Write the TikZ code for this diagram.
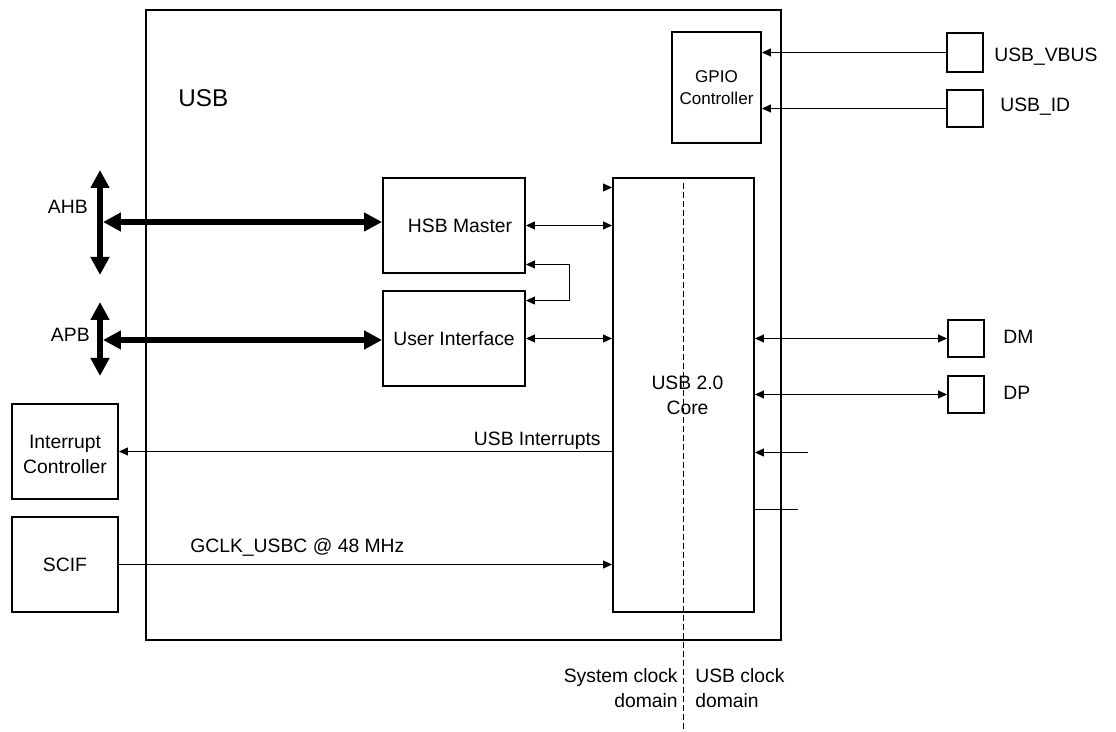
\documentclass[tikz,border=0pt]{standalone}
\usepackage{fontspec}
\setmainfont{Liberation Sans}
\usetikzlibrary{arrows.meta, calc, fit}

\begin{document}
\begin{tikzpicture}[x=0.02cm, y=-0.02cm, >={Triangle[length=0.18cm, width=0.16cm]},
                every node/.style={font=\fontsize{11}{14.2}\selectfont},
                box/.style={draw, line width=1.1pt, inner sep=0pt},
                tag/.style={inner sep=0pt, align=center},
                link/.style={line width=0.6pt},
                bus/.style={line width=3.3pt, {Triangle[length=0.36cm, width=0.36cm]}-{Triangle[length=0.36cm, width=0.36cm]}}]
                \useasboundingbox (0,0) rectangle (1116,732);
                
                % USB module outline
                \node[box, fit={(146,10) (781,640)}] (usb) {};
                \node[tag, anchor=west, font=\fontsize{13.8}{16}\selectfont] (usbname) at (178,98) {USB};
                
                % Inner blocks
                \node[box, fit={(672,32) (761,143)}] (gpio) {};
                \node[box, fit={(383,178) (525,273)}] (hsb) {};
                \node[box, fit={(383,291) (525,386)}] (ui) {};
                \node[box, fit={(613,178) (754,612)}] (core) {};
                \node[tag, font=\fontsize{9.7}{12.5}\selectfont] (gpiotext) at (gpio) {GPIO\\Controller};
                \node[tag] (hsbtext) at ($(hsb)+(6,0)$) {HSB Master};
                \node[tag] (uitext) at (ui) {User Interface};
                \node[tag] (coretext) at ($(core)+(4,0)$) {USB 2.0\\Core};
                
                % Outside blocks
                \node[box, fit={(12,404) (118,499)}] (intc) {};
                \node[box, fit={(12,517) (118,612)}] (scif) {};
                \node[tag] (intctext) at ($(intc)+(0,3)$) {Interrupt\\Controller};
                \node[tag] (sciftext) at (scif) {SCIF};
                
                % Pads and their names
                \node[box, fit={(947,33) (983,72)}] (vbus) {};
                \node[box, fit={(947,90) (983,127)}] (id) {};
                \node[box, fit={(948,320) (984,357)}] (dm) {};
                \node[box, fit={(948,376) (984,413)}] (dp) {};
                \node[tag, anchor=base west] (vbusname) at (994,62) {USB\_VBUS};
                \node[tag, anchor=base west] (idname) at (1000,112) {USB\_ID};
                \node[tag, anchor=base west] (dmname) at (1003,344) {DM};
                \node[tag, anchor=base west] (dpname) at (1003,400) {DP};
                
                % Pads to GPIO controller
                \draw[link, ->] (vbus) -- (gpio.east |- vbus);
                \draw[link, ->] (id) -- (gpio.east |- id);
                
                % Bus interfaces
                \coordinate (ahbtop) at (100,170);
                \coordinate (ahbbot) at (100,275);
                \coordinate (ahbin) at (103,222);
                \coordinate (apbtop) at (100,302);
                \coordinate (apbbot) at (100,376);
                \coordinate (apbin) at (103,340);
                \draw[bus] (ahbtop) -- (ahbbot);
                \draw[bus] (ahbin) -- (hsb.west |- ahbin);
                \draw[bus] (apbtop) -- (apbbot);
                \draw[bus] (apbin) -- (ui.west |- apbin);
                \node[tag, anchor=east] (ahbname) at (88,207) {AHB};
                \node[tag, anchor=east] (apbname) at (90,335) {APB};
                
                % Links to the core
                \draw[link, <->] (hsb) -- (core.west |- hsb);
                \draw[link, <->] (ui) -- (core.west |- ui);
                \draw[link, <->] ($(hsb.south east)+(0,-9.5)$) -- ++(44,0) |- ($(ui.north east)+(0,10.5)$);
                \draw[link, ->] ($(core.north west)+(-9,10.5)$) -- ($(core.north west)+(0,10.5)$);
                \draw[link, <->] (core.east |- dm) -- (dm);
                \draw[link, <->] (core.east |- dp) -- (dp);
                
                % Loose lines on the right
                \coordinate (rin) at (808,452.5);
                \coordinate (rout) at (798,509.5);
                \draw[link, ->] (rin) -- (core.east |- rin);
                \draw[link] (core.east |- rout) -- (rout);
                
                % Interrupts and clock
                \draw[link, ->] (core.west |- intc) -- (intc);
                \node[tag, anchor=base east] (irqname) at (601,446) {USB Interrupts};
                \draw[link, ->] (scif) -- (core.west |- scif);
                \node[tag, anchor=base west] (clkname) at (190,553) {GCLK\_USBC @ 48 MHz};
                
                % Clock domain split
                \coordinate (splittop) at (683.5,183);
                \coordinate (splitbot) at (683.5,732);
                \draw[link, dash pattern=on 0.12cm off 0.06cm] (splittop) -- (splitbot);
                \node[tag, anchor=north east, align=right] (sysdom) at (678,668) {System clock\\domain};
                \node[tag, anchor=north west, align=left] (usbdom) at (695,668) {USB clock\\domain};
            \end{tikzpicture}
\end{document}
